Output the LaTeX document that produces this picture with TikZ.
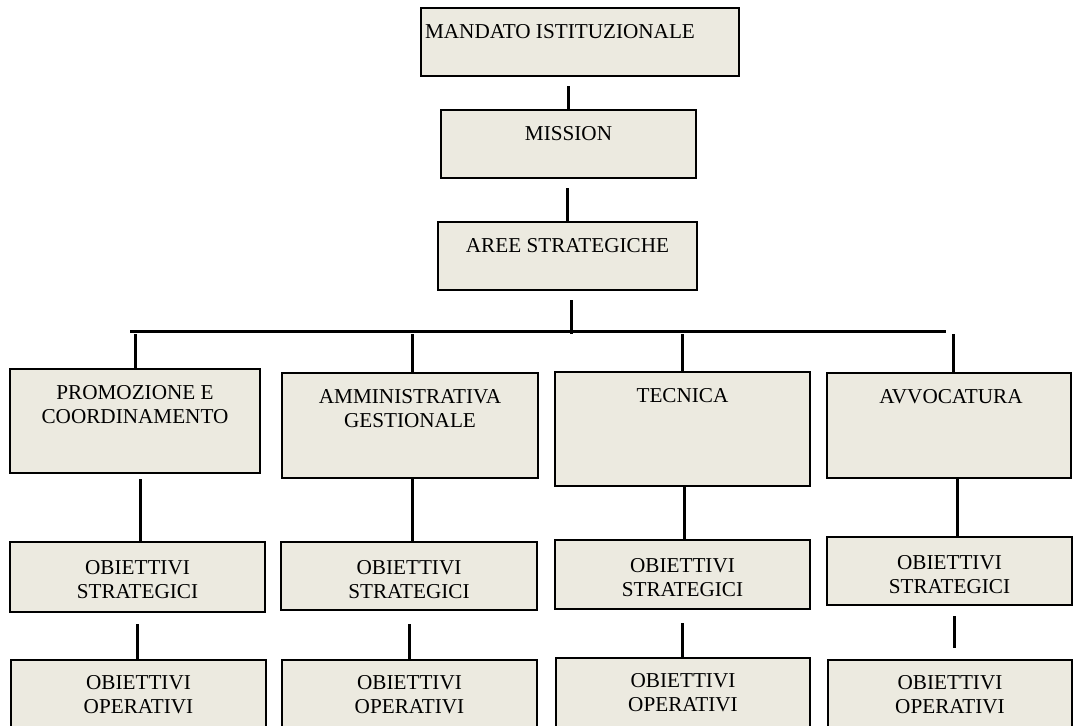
\documentclass[tikz,border=0pt]{standalone}
\usepackage{fontspec}
\setmainfont{Liberation Serif}
\usepackage{tikz}
\definecolor{boxfill}{RGB}{236,234,224}

\begin{document}
\begin{tikzpicture}[x=0.5pt,y=-0.5pt]
            \useasboundingbox (0,0) rectangle (1073,725);
            \begin{scope}[every node/.style={draw=black,fill=boxfill,line width=1.1pt,inner sep=0pt}]
                \node[minimum width=159pt,minimum height=34pt] (mandato) at (580,42) {};
                \node[minimum width=127.5pt,minimum height=34pt] (mission) at (568.5,144) {};
                \node[minimum width=129.5pt,minimum height=34pt] (aree) at (567.5,256) {};

                \node[minimum width=125pt,minimum height=52pt] (promo) at (135,421) {};
                \node[minimum width=128pt,minimum height=52.5pt] (amm) at (410,425.5) {};
                \node[minimum width=127.5pt,minimum height=57pt] (tec) at (682.5,429) {};
                \node[minimum width=122pt,minimum height=52.5pt] (avv) at (949,425.5) {};

                \node[minimum width=127.5pt,minimum height=35pt] (os1) at (137.5,577) {};
                \node[minimum width=128pt,minimum height=34pt] (os2) at (409,576) {};
                \node[minimum width=127.5pt,minimum height=34.5pt] (os3) at (682.5,574.5) {};
                \node[minimum width=122.5pt,minimum height=34pt] (os4) at (949.5,571) {};

                \node[minimum width=127.5pt,minimum height=40pt] (oo1) at (138.5,700) {};
                \node[minimum width=127.5pt,minimum height=40pt] (oo2) at (409.5,700) {};
                \node[minimum width=127pt,minimum height=41pt] (oo3) at (683,699) {};
                \node[minimum width=122pt,minimum height=40pt] (oo4) at (950,700) {};
            \end{scope}
            \begin{scope}[every node/.style={anchor=north,inner sep=0pt,align=center,font=\fontsize{10.6}{12}\selectfont}]
                \node (mandato-t) at ([xshift=-10pt,yshift=-8.5pt]mandato.north) {MANDATO ISTITUZIONALE};
                \node (mission-t) at ([yshift=-8.5pt]mission.north) {MISSION};
                \node (aree-t) at ([yshift=-8.5pt]aree.north) {AREE STRATEGICHE};

                \node (promo-t) at ([yshift=-8.5pt]promo.north) {PROMOZIONE E\\COORDINAMENTO};
                \node (amm-t) at ([yshift=-8.5pt]amm.north) {AMMINISTRATIVA\\GESTIONALE};
                \node (tec-t) at ([yshift=-8.5pt]tec.north) {TECNICA};
                \node (avv-t) at ([xshift=1pt,yshift=-8.5pt]avv.north) {AVVOCATURA};

                \node (os1-t) at ([yshift=-9.5pt]os1.north) {OBIETTIVI\\STRATEGICI};
                \node (os2-t) at ([yshift=-9.5pt]os2.north) {OBIETTIVI\\STRATEGICI};
                \node (os3-t) at ([yshift=-9.5pt]os3.north) {OBIETTIVI\\STRATEGICI};
                \node (os4-t) at ([yshift=-9.5pt]os4.north) {OBIETTIVI\\STRATEGICI};

                \node (oo1-t) at ([yshift=-8pt]oo1.north) {OBIETTIVI\\OPERATIVI};
                \node (oo2-t) at ([yshift=-8pt]oo2.north) {OBIETTIVI\\OPERATIVI};
                \node (oo3-t) at ([yshift=-8pt]oo3.north) {OBIETTIVI\\OPERATIVI};
                \node (oo4-t) at ([yshift=-8pt]oo4.north) {OBIETTIVI\\OPERATIVI};
            \end{scope}
            \coordinate (busL) at (130,331);
            \coordinate (busR) at (946,331);
            \begin{scope}[every edge/.style={draw,line width=1.5pt}]
                \path [-] (mission.north) edge[shorten >=4.5pt] (mission.north |- mandato.south);
                \path [-] (aree.north) edge[shorten >=4.5pt] (aree.north |- mission.south);
                \path [-] ([xshift=1.75pt]aree.south) edge[shorten <=4.5pt] ([xshift=1.75pt,yshift=-1.5pt]aree.south |- busL);

                \path [-] (busL) edge (busR);

                \path [-] (promo.north) edge[shorten >=1.5pt] (promo.north |- busL);
                \path [-] ([xshift=1pt]amm.north) edge[shorten >=1.5pt] ([xshift=1pt]amm.north |- busL);
                \path [-] (tec.north) edge[shorten >=1.5pt] (tec.north |- busL);
                \path [-] ([xshift=2pt]avv.north) edge[shorten >=1.5pt] ([xshift=2pt]avv.north |- busL);

                \path [-] ([xshift=2.5pt]promo.south) edge[shorten <=2.5pt] ([xshift=2.5pt]promo.south |- os1.north);
                \path [-] (os1.south) edge[shorten <=5.5pt] (os1.south |- oo1.north);

                \path [-] ([xshift=1pt]amm.south) edge ([xshift=1pt]amm.south |- os2.north);
                \path [-] (os2.south) edge[shorten <=6.5pt] (os2.south |- oo2.north);

                \path [-] ([xshift=0.75pt]tec.south) edge ([xshift=0.75pt]tec.south |- os3.north);
                \path [-] (os3.south) edge[shorten <=6.5pt] (os3.south |- oo3.north);

                \path [-] ([xshift=4pt]avv.south) edge ([xshift=4pt]avv.south |- os4.north);
                \path [-] ([xshift=2.25pt]os4.south) edge[shorten <=5pt,shorten >=5.5pt] ([xshift=2.25pt]os4.south |- oo4.north);
            \end{scope}
        \end{tikzpicture}
\end{document}
